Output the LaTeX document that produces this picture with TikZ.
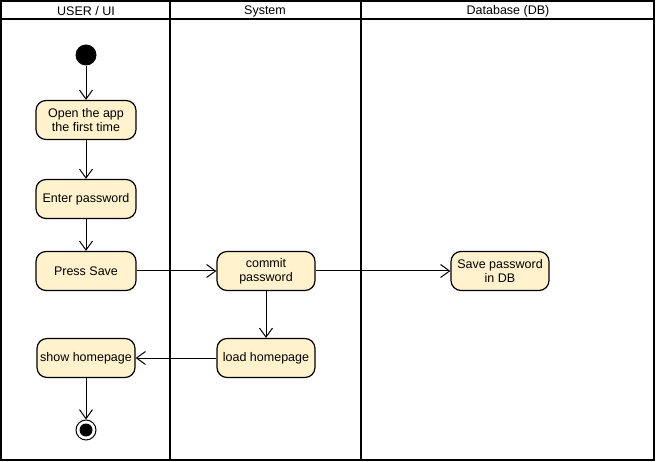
\documentclass[tikz,border=0pt]{standalone}
\usepackage{fontspec}
\setmainfont{Liberation Sans}
\usetikzlibrary{arrows.meta}
\definecolor{actfill}{HTML}{FFF2CC}
\begin{document}
\begin{tikzpicture}[x=1pt,y=-1pt,
  act/.style={draw=black, line width=1.2pt, fill=actfill, rounded corners=10pt,
    minimum width=98pt, minimum height=39pt, inner sep=2pt, align=center,
    font=\fontsize{12.5}{14}\selectfont},
  flow/.style={draw=black, line width=1pt, -{Straight Barb[length=9pt,width=13pt,line width=1pt]}},
  lane/.style={draw=black, line width=2pt},
  hdr/.style={font=\fontsize{12.5}{14}\selectfont, inner sep=0pt}]
\useasboundingbox (0,0) rectangle (656,462);
% swimlane frame
\draw[lane] (1,1) rectangle (654,460);
\draw[lane] (1,19) -- (654,19);
\draw[lane] (170,1) -- (170,460);
\draw[lane] (361,1) -- (361,460);
\node[hdr] (h1) at (86,11) {USER / UI};
\node[hdr] (h2) at (265,11) {System};
\node[hdr] (h3) at (508,11) {Database (DB)};
% nodes
\node[circle, fill=black, minimum size=21pt, inner sep=0pt] (start) at (86,55) {};
\node[act, minimum width=100pt] (open) at (86,120) {Open the app\\the first time};
\node[act, minimum width=100pt] (enter) at (86,199) {Enter password};
\node[act, minimum width=100pt] (press) at (86,271) {Press Save};
\node[act] (commit) at (266,271) {commit\\password};
\node[act] (save) at (500,271) {Save password\\in DB};
\node[act] (show) at (86,358) {show homepage};
\node[act] (load) at (266,358) {load homepage};
\node[circle, draw=black, line width=1pt, fill=white, minimum size=20pt, inner sep=0pt] (end) at (86,430) {};
\node[circle, fill=black, minimum size=13pt, inner sep=0pt] (endin) at (end) {};
% connectors
\draw[flow] (start) -- (open);
\draw[flow] (open) -- (enter);
\draw[flow] (enter) -- (press);
\draw[flow] (press) -- (commit);
\draw[flow] (commit) -- (save);
\draw[flow] (commit) -- (load);
\draw[flow] (load) -- (show);
\draw[flow] (show) -- (end);
\end{tikzpicture}
\end{document}
